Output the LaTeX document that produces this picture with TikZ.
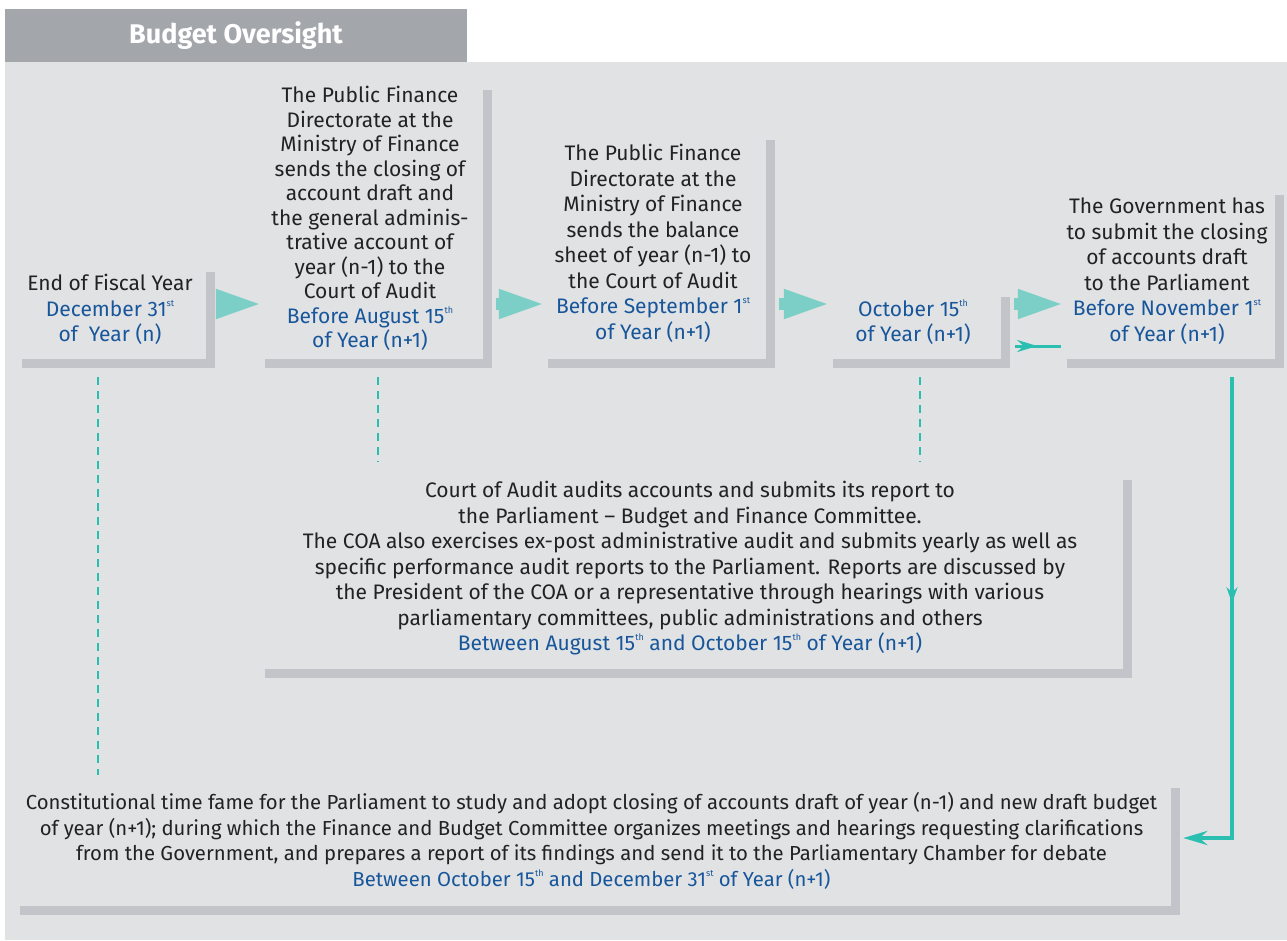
\documentclass[tikz,border=0pt]{standalone}
\usepackage{fontspec}
\setmainfont{Fira Sans}
\usetikzlibrary{arrows.meta,decorations.markings,positioning}
\definecolor{panelgrey}{HTML}{E1E2E4}
\definecolor{headgrey}{HTML}{A3A7AC}
\definecolor{bargrey}{HTML}{C2C4C9}
\definecolor{textgrey}{HTML}{222222}
\definecolor{dateblue}{HTML}{17569A}
\definecolor{paleteal}{HTML}{7CCFC7}
\definecolor{darkteal}{HTML}{2BBFB2}
\newcommand{\ordsup}[1]{\raisebox{0.48em}{\fontsize{9pt}{9pt}\selectfont #1}}
\newcommand{\when}[1]{{\color{dateblue}#1}}
\tikzstyle{stepbox} = [align=center, inner sep=0pt, text=textgrey, font=\fontsize{21pt}{25.5pt}\selectfont]
\tikzstyle{titlebox} = [fill=headgrey, text=white, minimum width=462pt, minimum height=53pt, font=\fontsize{27pt}{30pt}\selectfont\bfseries]
\tikzstyle{shadowbar} = [draw=bargrey, line width=9pt]
\tikzstyle{bigarrow} = [draw=paleteal, line width=12pt, -{Triangle[length=48pt,width=26pt]}]
\tikzstyle{thinarrow} = [draw=darkteal, line width=3pt, postaction={decorate},
  decoration={markings, mark=at position 22pt with {\arrow{Stealth[length=20pt,width=12pt]}}}]
\tikzstyle{railarrow} = [draw=darkteal, line width=4.5pt, -{Stealth[length=24pt,width=14pt]}, postaction={decorate},
  decoration={markings, mark=at position 226pt with {\arrow{Stealth[length=16pt,width=11pt]}}}]
\tikzstyle{dashline} = [draw=darkteal, line width=2.5pt, dash pattern=on 8pt off 6pt]

\begin{document}
\begin{tikzpicture}[x=1pt, y=-1pt]
	\useasboundingbox (0,0) rectangle (1287,940);
	\fill[panelgrey] (5,62) rectangle (1287,940);
	\node [titlebox] (title) at (236,35.5) {Budget Oversight};

	% timeline boxes
	\node [stepbox, minimum width=188pt, minimum height=91pt] (b1) at (110,309.5)
		{End of Fiscal Year\\ \when{December 31\ordsup{st}}\\ \when{of~~Year (n)}};
	\node [stepbox, minimum width=222pt, minimum height=273pt, font=\fontsize{21pt}{24.5pt}\selectfont] (b2) at (370,218.5)
		{The Public Finance\\ Directorate at the\\ Ministry of Finance\\ sends the closing of\\ account draft and\\ the general adminis-\\ trative account of\\ year (n-1) to the\\ Court of Audit\\ \when{Before August 15\ordsup{th}}\\ \when{of Year (n+1)}};
	\node [stepbox, minimum width=222pt, minimum height=223pt] (b3) at (653,243.5)
		{The Public Finance\\ Directorate at the\\ Ministry of Finance\\ sends the balance\\ sheet of year (n-1) to\\ the Court of Audit\\ \when{Before September 1\ordsup{st}}\\ \when{of Year (n+1)}};
	\node [stepbox, minimum width=172pt, minimum height=66pt] (b4) at (913,322)
		{\when{October 15\ordsup{th}}\\ \when{of Year (n+1)}};
	\node [stepbox, minimum width=212pt, minimum height=168pt] (b5) at (1167,271)
		{The Government has\\ to submit the closing\\ of accounts draft\\ to the Parliament\\ \when{Before November 1\ordsup{st}}\\ \when{of Year (n+1)}};
	\node [stepbox, minimum width=862pt, minimum height=193pt] (b6) at (690,568.5)
		{Court of Audit audits accounts and submits its report to\\ the Parliament -- Budget and Finance Committee.\\ The COA also exercises ex-post administrative audit and submits yearly as well as\\ specific performance audit reports to the Parliament. Reports are discussed by\\ the President of the COA or a representative through hearings with various\\ parliamentary committees, public administrations and others\\ \when{Between August 15\ordsup{th} and October 15\ordsup{th} of Year (n+1)}};
	\node [stepbox, minimum width=1155pt, minimum height=122pt, font=\fontsize{20.3pt}{25.5pt}\selectfont] (b7) at (591.5,841)
		{Constitutional time fame for the Parliament to study and adopt closing of accounts draft of year (n-1) and new draft budget\\ of year (n+1); during which the Finance and Budget Committee organizes meetings and hearings requesting clarifications\\ from the Government, and prepares a report of its findings and send it to the Parliamentary Chamber for debate\\ \when{Between October 15\ordsup{th} and December 31\ordsup{st} of Year (n+1)}};

	% L-shaped shadows
	\foreach \b in {b1,b2,b3,b4,b5,b6,b7}
		\draw [shadowbar] ([shift={(6,8)}]\b.north east) |- ([shift={(6,8)}]\b.south west);

	% connectors
	\coordinate (arrowrow) at (0,304);
	\coordinate (lowrow) at (0,346);
	\foreach \a/\b in {b1/b2,b2/b3,b3/b4,b4/b5}
		\draw [bigarrow] ([xshift=15pt]\a.east |- arrowrow) -- ([xshift=5pt]\b.west |- arrowrow);
	\draw [thinarrow] ([xshift=16pt]b4.east |- lowrow) -- (b5.west |- lowrow);
	\draw [railarrow] ([shift={(65,22)}]b5.south) |- ([shift={(14,-3)}]b7.east);
	\draw [dashline] ([shift={(-12,22)}]b1.south) -- ([shift={(-12,-5)}]b1.south |- b7.north);
	\draw [dashline] ([shift={(8,22)}]b2.south) -- ([shift={(8,-10)}]b2.south |- b6.north);
	\draw [dashline] ([shift={(7,22)}]b4.south) -- ([shift={(7,-10)}]b4.south |- b6.north);
\end{tikzpicture}
\end{document}
